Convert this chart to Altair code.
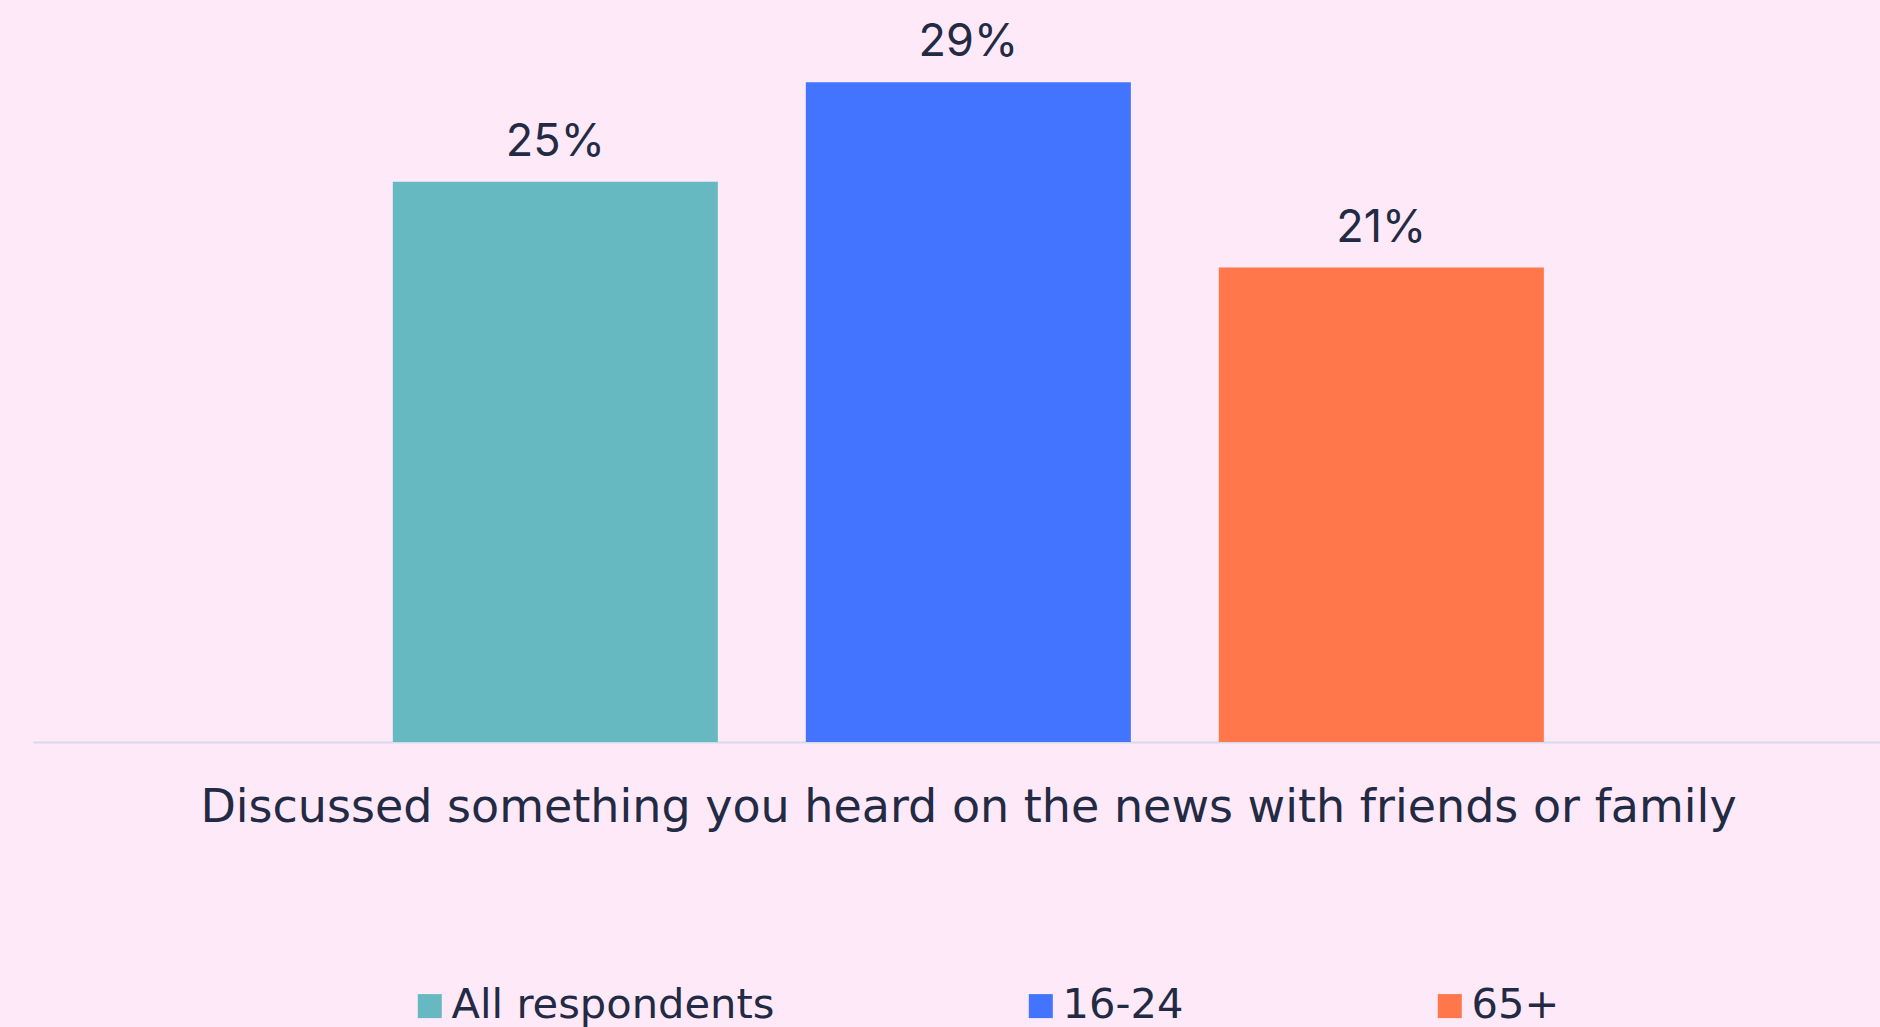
import altair as alt
import pandas as pd

groups = ["All respondents", "16-24", "65+"]
values = [24.8, 29.2, 21.0]
labels_txt = ["25%", "29%", "21%"]
colors = ["#67B9C1", "#4274FF", "#FF774A"]
question = "Discussed something you heard on the news with friends or family"

df = pd.DataFrame({"group": groups, "value": values, "label": labels_txt})

FONT = "Inter"
TFONT = "DejaVu Sans"
INK = "#232A43"
BG = "#FEE9F9"

x = alt.X("group:N", sort=groups,
          scale=alt.Scale(paddingInner=0.213, paddingOuter=0.8426, align=0.517),
          axis=alt.Axis(title=question, labels=False, ticks=False,
                        domainColor="#D6DAEE", domainWidth=2,
                        titleFont=TFONT, titleFontSize=46, titleFontWeight="normal",
                        titleColor=INK, titleBaseline="alphabetic",
                        titleY=79, titleX=935, titleAlign="center"))
y = alt.Y("value:Q", scale=alt.Scale(domain=[0, 32], nice=False), axis=None)

bars = alt.Chart(df).mark_bar().encode(
    x=x, y=y,
    color=alt.Color("group:N", sort=groups,
                    scale=alt.Scale(domain=groups, range=colors),
                    legend=alt.Legend(title=None, orient="none", direction="horizontal",
                                      legendX=376, legendY=966,
                                      symbolType="square", symbolSize=576,
                                      symbolStrokeWidth=0, symbolOpacity=1,
                                      labelFont=TFONT, labelFontSize=41.6, labelColor=INK,
                                      labelOffset=1, labelLimit=1000,
                                      columnPadding=245))
)

labels = alt.Chart(df).mark_text(dy=-26, baseline="alphabetic", font=FONT,
                                 fontSize=45, color=INK).encode(
    x=alt.X("group:N", sort=groups), y=y, text="label:N")

chart = (bars + labels).properties(
    width=1847, height=723,
    background=BG,
    autosize=alt.AutoSizeParams(type="none"),
    padding={"left": 33, "top": 19, "right": 0, "bottom": 285},
).configure_view(stroke=None)

chart.save("out.html", embed_options={"renderer": "svg", "actions": False})
